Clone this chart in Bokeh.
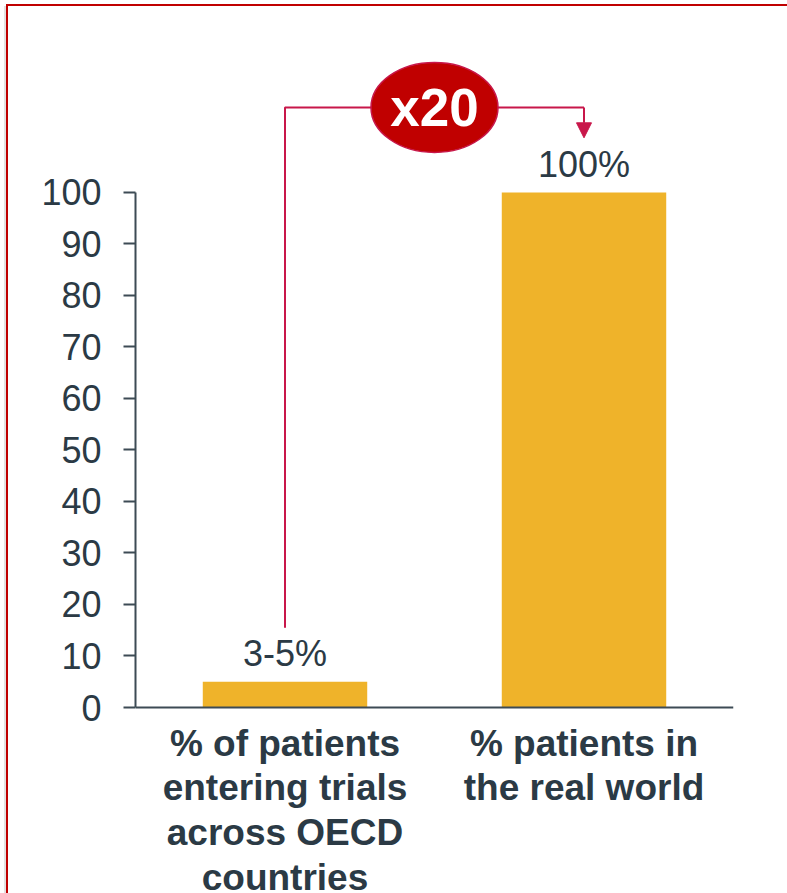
from bokeh.plotting import figure
from bokeh.models import Range1d, FixedTicker, Arrow, NormalHead
from bokeh.embed import file_html
from bokeh.resources import INLINE
from bokeh.core.properties import value

# --- data -------------------------------------------------------------
categories = [
    "% of patients\nentering trials\nacross OECD\ncountries",
    "% patients in\nthe real world",
]
shares = [5, 100]
share_labels = ["3-5%", "100%"]
ratio_label = "x20"
y_ticks = [0, 10, 20, 30, 40, 50, 60, 70, 80, 90, 100]

# --- styling ----------------------------------------------------------
FONT = "Liberation Sans"
INK = "#2B3A45"
AXIS = "#3D4B55"
GOLD = "#EFB32A"
RED = "#C00000"
CRIMSON = "#C8174A"

x_pos = [0.5, 1.5]

# the plot area runs to the bottom of the page; the category axis sits at y=0
p = figure(
    width=787, height=893,
    x_range=Range1d(0, 2), y_range=Range1d(-36.11, 135.9),
    output_backend="svg", toolbar_location=None,
    min_border_left=135, min_border_right=54,
    min_border_top=7, min_border_bottom=0,
)
p.background_fill_color = "white"
# transparent surround so the panel frame drawn behind the canvas shows
p.border_fill_color = None
p.outline_line_color = None
p.grid.grid_line_color = None

# red panel frame: only its top and left edges fall on the page
p.styles = {
    "background": (
        "linear-gradient(#C00000, #C00000) 6px 4px / 2px 100% no-repeat, "
        "linear-gradient(#C00000, #C00000) 6px 4px / 100% 2px no-repeat, "
        "linear-gradient(#E2E2E2, #E2E2E2) 4px 6px / 2px 100% no-repeat, "
        "white"
    ),
}

# bars
p.vbar(x=x_pos, top=shares, bottom=0, width=0.55, fill_color=GOLD, line_color=None)

# value labels just above the bars
label_gap = 5.4
p.text(x=x_pos, y=[v + label_gap for v in shares], text=share_labels,
       text_align="center", text_baseline="alphabetic",
       text_font=value(FONT), text_font_size="36px", text_color=INK)

# bracket connecting the two bars, with the ratio badge
bracket_y = shares[1] + 16.5
p.line(x=[x_pos[0], x_pos[0], x_pos[1]],
       y=[shares[0] + 10.5, bracket_y, bracket_y],
       line_color=CRIMSON, line_width=2)
p.add_layout(Arrow(x_start=x_pos[1], y_start=bracket_y,
                   x_end=x_pos[1], y_end=shares[1] + 10.6,
                   line_color=CRIMSON, line_width=2,
                   end=NormalHead(size=15, fill_color=CRIMSON, line_color=CRIMSON)))
p.ellipse(x=[1.0], y=[bracket_y], width=127, height=90,
          width_units="screen", height_units="screen",
          fill_color=RED, line_color=CRIMSON, line_width=1.5)
p.text(x=[1.0], y=[bracket_y], text=[ratio_label],
       text_align="center", text_baseline="middle",
       text_font=value(FONT), text_font_style="bold",
       text_font_size="53px", text_color="white")

# y axis (0-100 only)
ya = p.yaxis[0]
ya.ticker = FixedTicker(ticks=y_ticks)
ya.bounds = (0, 100)
ya.minor_tick_line_color = None
ya.axis_line_color = AXIS
ya.axis_line_width = 2
ya.major_tick_line_color = AXIS
ya.major_tick_line_width = 2
ya.major_tick_out = 12
ya.major_tick_in = 0
ya.major_label_standoff = 22
ya.major_label_text_font = FONT
ya.major_label_text_font_size = "36px"
ya.major_label_text_color = INK

# x axis pinned at zero, category names below it
xa = p.xaxis[0]
xa.fixed_location = 0
xa.ticker = FixedTicker(ticks=x_pos)
xa.major_label_overrides = {x_pos[0]: categories[0], x_pos[1]: categories[1]}
xa.minor_tick_line_color = None
xa.major_tick_line_color = None
xa.major_tick_out = 0
xa.major_tick_in = 0
xa.axis_line_color = AXIS
xa.axis_line_width = 2
xa.major_label_standoff = 15
xa.major_label_text_font = FONT
xa.major_label_text_font_style = "bold"
xa.major_label_text_font_size = "37px"
xa.major_label_text_line_height = 1.09
xa.major_label_text_color = INK

open("out.html", "w").write(file_html(p, INLINE))
